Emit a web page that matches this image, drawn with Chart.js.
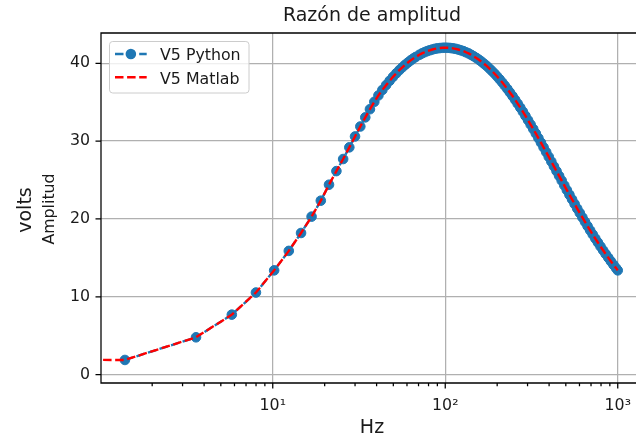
<!DOCTYPE html>
<html>
<head>
<meta charset="utf-8">
<title>Razón de amplitud</title>
<script src="https://cdn.jsdelivr.net/npm/chart.js@4/dist/chart.umd.min.js"></script>
<style>
  html, body { margin: 0; padding: 0; background: #ffffff; overflow: hidden; width: 636px; height: 439px; }
  canvas { display: block; }
</style>
</head>
<body>
<canvas id="amp" width="636" height="439"></canvas>
<script>
// Frequency grid of the sweep (Hz)
const freqHz = [
  1.39, 3.59, 5.79, 7.99, 10.19, 12.39, 14.59, 16.79, 18.99, 21.19,
  23.39, 25.59, 27.79, 29.99, 32.19, 34.39, 36.59, 38.79, 40.99, 43.19,
  45.39, 47.59, 49.79, 51.99, 54.19, 56.39, 58.59, 60.79, 62.99, 65.19,
  67.39, 70.8, 73.28, 75.86, 78.52, 81.28, 84.14, 87.1, 90.16, 93.33,
  96.61, 100, 103.5, 107.2, 110.9, 114.8, 118.9, 123.0, 127.4, 131.8,
  136.5, 141.3, 146.2, 151.4, 156.7, 162.2, 167.9, 173.8, 179.9, 186.2,
  192.8, 199.5, 206.5, 213.8, 221.3, 229.1, 237.1, 245.5, 254.1, 263.0,
  272.3, 281.8, 291.7, 302.0, 312.6, 323.6, 335.0, 346.7, 358.9, 371.5,
  384.6, 398.1, 412.1, 426.6, 441.6, 457.1, 473.2, 489.8, 507.0, 524.8,
  543.3, 562.3, 582.1, 602.6, 623.7, 645.7, 668.3, 691.8, 716.1, 741.3,
  767.4, 794.3, 822.2, 851.1, 881.1, 912.0, 944.1, 977.2, 1000
];

// Output amplitude at each frequency (volts)
const amplitudeVolts = [
  1.89, 4.80, 7.71, 10.55, 13.40, 15.90, 18.20, 20.30, 22.35, 24.40,
  26.15, 27.70, 29.20, 30.60, 31.88, 33.05, 34.10, 35.05, 35.87, 36.57,
  37.19, 37.75, 38.26, 38.71, 39.12, 39.48, 39.81, 40.10, 40.37, 40.60,
  40.81, 41.09, 41.27, 41.42, 41.56, 41.67, 41.77, 41.86, 41.92, 41.96,
  41.99, 42.00, 41.99, 41.96, 41.92, 41.86, 41.77, 41.67, 41.56, 41.42,
  41.27, 41.09, 40.90, 40.69, 40.46, 40.21, 39.94, 39.66, 39.35, 39.03,
  38.69, 38.33, 37.95, 37.55, 37.13, 36.70, 36.25, 35.79, 35.31, 34.81,
  34.30, 33.78, 33.24, 32.69, 32.13, 31.56, 30.98, 30.39, 29.80, 29.20,
  28.60, 27.99, 27.38, 26.76, 26.15, 25.54, 24.93, 24.32, 23.71, 23.11,
  22.52, 21.93, 21.34, 20.77, 20.20, 19.64, 19.09, 18.54, 18.01, 17.49,
  16.98, 16.47, 15.98, 15.50, 15.03, 14.57, 14.12, 13.69, 13.40
];

// The Matlab run also has a DC sample; a log axis cannot place 0 Hz,
// so it sits far to the left and the segment runs flat into the axes.
const matlabDcHz = 0.001;
const matlabDcVolts = 1.95;

const seriesNames = ['V5 Python', 'V5 Matlab'];

const xMajorTicks = [10, 100, 1000];
const xTickLabels = ['10\u00B9', '10\u00B2', '10\u00B3'];
const xMinorTicks = [2, 3, 4, 5, 6, 7, 8, 9, 20, 30, 40, 50, 60, 70, 80, 90,
                     200, 300, 400, 500, 600, 700, 800, 900];
const yTicks = [0, 10, 20, 30, 40];

const titleText = 'Razón de amplitud';
const xLabel = 'Hz';
const yLabelOuter = 'volts';
const yLabelInner = 'Amplitud';

// ---- styling ----
const FONT = "'DejaVu Sans', 'Liberation Sans', sans-serif";
const BLUE = '#1f77b4';
const RED = '#ff0000';
const GRID = '#b0b0b0';
const INK = '#000000';
const TEXT = '#1a1a1a';
const LW = 1.26;
const DASH = [8.5, 3.6];
const MARKER_R = 4.8;

const pythonPoints = freqHz.map((f, i) => ({ x: f, y: amplitudeVolts[i] }));
const matlabPoints = [{ x: matlabDcHz, y: matlabDcVolts }].concat(pythonPoints);

const decor = {
  id: 'decor',
  afterDraw(chart) {
    const { ctx, chartArea: a, scales: { x, y } } = chart;
    ctx.save();

    // tick marks
    ctx.strokeStyle = INK;
    ctx.lineWidth = LW;
    ctx.setLineDash([]);
    ctx.beginPath();
    xMajorTicks.forEach(v => {
      const px = x.getPixelForValue(v);
      ctx.moveTo(px, a.bottom); ctx.lineTo(px, a.bottom + 5.5);
    });
    xMinorTicks.forEach(v => {
      const px = x.getPixelForValue(v);
      ctx.moveTo(px, a.bottom); ctx.lineTo(px, a.bottom + 3.2);
    });
    yTicks.forEach(v => {
      const py = y.getPixelForValue(v);
      ctx.moveTo(a.left, py); ctx.lineTo(a.left - 5.5, py);
    });
    ctx.stroke();

    // left, top and bottom spines (the right one lies past the canvas edge)
    ctx.beginPath();
    ctx.moveTo(a.right + 2, a.top); ctx.lineTo(a.left, a.top);
    ctx.lineTo(a.left, a.bottom); ctx.lineTo(a.right + 2, a.bottom);
    ctx.stroke();

    // title and axis labels
    ctx.fillStyle = TEXT;
    ctx.textAlign = 'center';
    ctx.textBaseline = 'alphabetic';
    ctx.font = `19px ${FONT}`;
    const axesMidX = 372;
    ctx.fillText(titleText, axesMidX, 21);
    ctx.fillText(xLabel, axesMidX, 432.5);

    const midY = (a.top + a.bottom) / 2;
    ctx.save();
    ctx.translate(30.7, midY + 2);
    ctx.rotate(-Math.PI / 2);
    ctx.fillText(yLabelOuter, 0, 0);
    ctx.restore();

    ctx.save();
    ctx.font = `15.8px ${FONT}`;
    ctx.translate(54, midY + 1);
    ctx.rotate(-Math.PI / 2);
    ctx.fillText(yLabelInner, 0, 0);
    ctx.restore();

    // legend
    const bx = 109.5, by = 41.5, bw = 139.5, bh = 51.5;
    ctx.beginPath();
    ctx.roundRect(bx, by, bw, bh, 3.2);
    ctx.fillStyle = 'rgba(255,255,255,0.8)';
    ctx.fill();
    ctx.strokeStyle = '#cccccc';
    ctx.lineWidth = 1;
    ctx.stroke();

    const hx0 = 115, hx1 = 146.7;
    const rows = [54, 77.3];

    ctx.save();
    ctx.beginPath();
    ctx.rect(hx0, 0, hx1 - hx0, 439);
    ctx.clip();
    ctx.lineWidth = 2.37;
    ctx.setLineDash(DASH);
    ctx.strokeStyle = BLUE;
    ctx.beginPath(); ctx.moveTo(hx0, rows[0]); ctx.lineTo(hx1 + 10, rows[0]); ctx.stroke();
    ctx.strokeStyle = RED;
    ctx.beginPath(); ctx.moveTo(hx0, rows[1]); ctx.lineTo(hx1 + 10, rows[1]); ctx.stroke();
    ctx.restore();

    ctx.beginPath();
    ctx.arc((hx0 + hx1) / 2, rows[0], MARKER_R + 0.5, 0, Math.PI * 2);
    ctx.fillStyle = BLUE;
    ctx.fill();

    ctx.fillStyle = TEXT;
    ctx.font = `15.8px ${FONT}`;
    ctx.textAlign = 'left';
    ctx.fillText(seriesNames[0], 160, rows[0] + 6);
    ctx.fillText(seriesNames[1], 160, rows[1] + 6.2);

    ctx.restore();
  }
};

new Chart(document.getElementById('amp'), {
  type: 'line',
  data: {
    datasets: [
      {
        label: seriesNames[1],
        data: matlabPoints,
        borderColor: RED,
        backgroundColor: RED,
        borderWidth: 2.37,
        borderDash: DASH,
        pointRadius: 0,
        fill: false,
        tension: 0,
        order: 0,
        clip: 0
      },
      {
        label: seriesNames[0],
        data: pythonPoints,
        borderColor: BLUE,
        backgroundColor: BLUE,
        borderWidth: 2.37,
        borderDash: DASH,
        pointRadius: MARKER_R,
        pointBorderWidth: 1,
        pointBackgroundColor: BLUE,
        pointBorderColor: BLUE,
        fill: false,
        tension: 0,
        order: 1,
        clip: 0
      }
    ]
  },
  options: {
    responsive: false,
    animation: false,
    devicePixelRatio: 1,
    events: [],
    layout: { autoPadding: false, padding: { top: 33, right: 0, left: 0, bottom: 0 } },
    plugins: {
      legend: { display: false },
      title: { display: false },
      tooltip: { enabled: false }
    },
    scales: {
      x: {
        type: 'logarithmic',
        min: 1.01,
        max: 1276,
        border: { display: false },
        grid: {
          color: c => (c.tick && xMajorTicks.includes(c.tick.value)) ? GRID : 'rgba(0,0,0,0)',
          lineWidth: LW,
          drawTicks: true,
          tickLength: 13,
          tickColor: 'rgba(0,0,0,0)'
        },
        ticks: {
          autoSkip: false,
          maxRotation: 0,
          minRotation: 0,
          padding: 0,
          color: TEXT,
          font: { family: FONT, size: 15.8 },
          callback: (value) => {
            const i = xMajorTicks.indexOf(value);
            return i >= 0 ? xTickLabels[i] : '';
          }
        },
        afterBuildTicks: s => {
          s.ticks = xMinorTicks.concat(xMajorTicks).sort((p, q) => p - q).map(v => ({ value: v }));
        },
        afterFit: s => {
          s.height = 56;
          s.paddingLeft = 0; s.paddingRight = 0;
        }
      },
      y: {
        type: 'linear',
        min: -1.07,
        max: 43.89,
        border: { display: false },
        grid: { color: GRID, lineWidth: LW, drawTicks: false },
        ticks: {
          padding: 11,
          color: TEXT,
          font: { family: FONT, size: 15.8 }
        },
        afterBuildTicks: s => { s.ticks = yTicks.map(v => ({ value: v })); },
        afterFit: s => {
          s.width = 101;
          s.paddingTop = 0; s.paddingBottom = 0;
        }
      }
    }
  },
  plugins: [decor]
});
</script>
</body>
</html>
